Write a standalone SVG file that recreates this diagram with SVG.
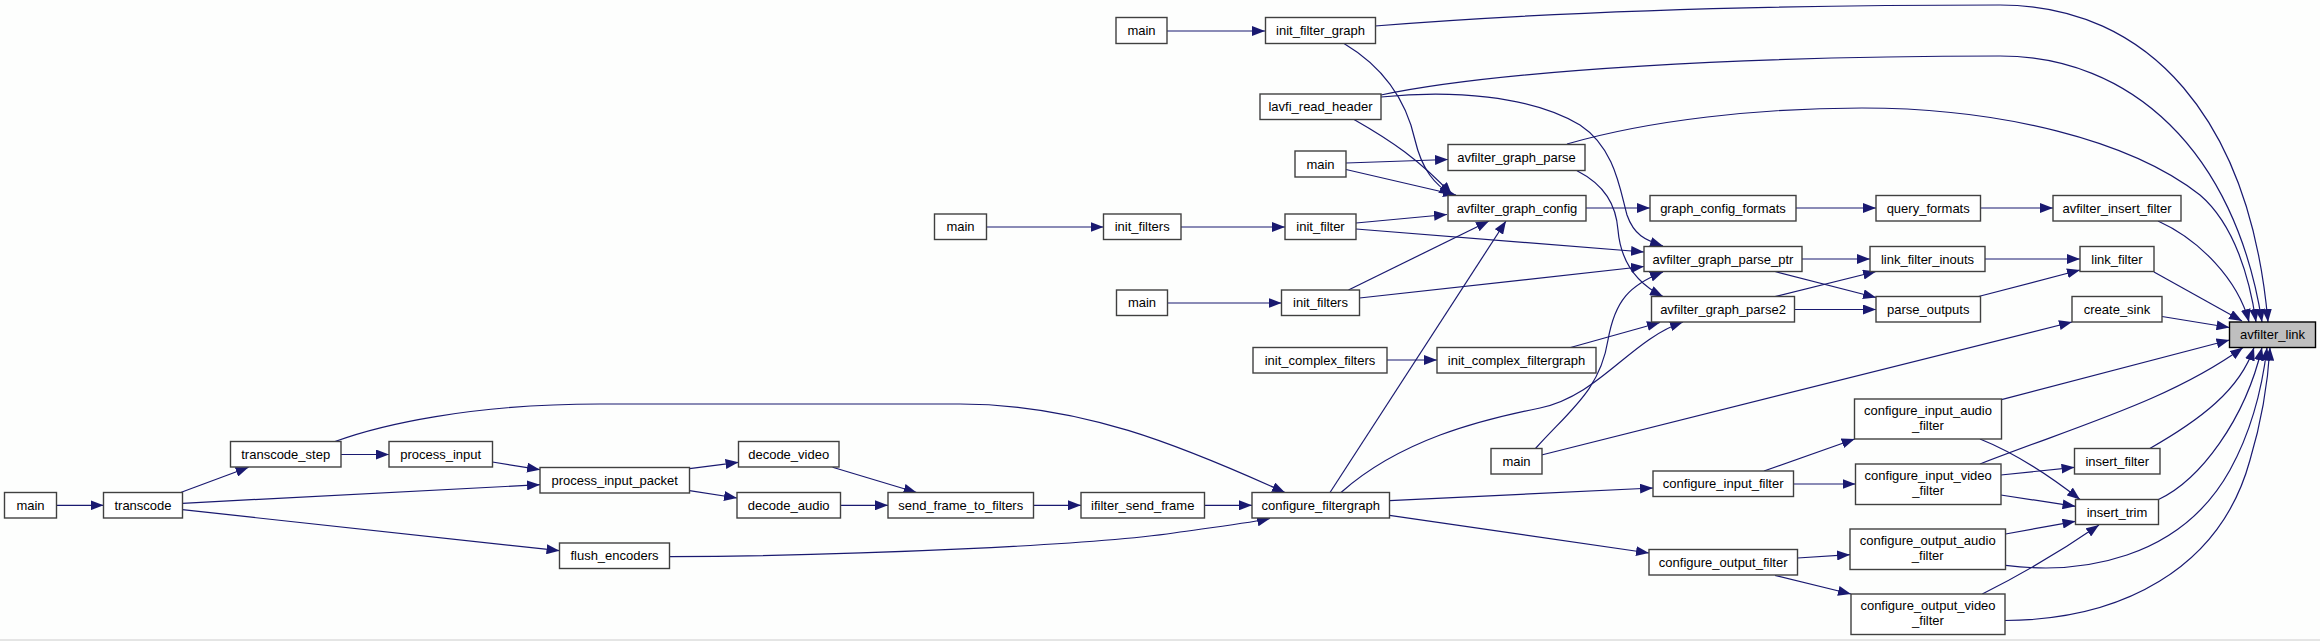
<svg xmlns="http://www.w3.org/2000/svg" width="2320" height="641" viewBox="0 0 2320 641">
<defs>
<style>
.n rect{fill:#ffffff;stroke:#404040;stroke-width:1.4}
.n.hl rect{fill:#bfbfbf;stroke:#000000}
.n text{font-family:"Liberation Sans",Arial,sans-serif;font-size:13px;fill:#000000;text-anchor:middle}
#edges path{fill:none;stroke:#191970;stroke-width:1.2;marker-end:url(#ah)}
</style>
<marker id="ah" markerWidth="14" markerHeight="10" refX="13" refY="5" orient="auto" markerUnits="userSpaceOnUse"><path d="M0,0 L13,5 L0,10 z" fill="#191970"/></marker>
</defs>
<rect x="0" y="0" width="2320" height="641" fill="#fdfefd"/>
<line x1="0" y1="640" x2="2320" y2="640" stroke="#cccccc" stroke-width="1"/>
<g id="edges">
<path d="M1167,31 L1265,31"/>
<path d="M1375,26 C1600,8 1850,5 2000,5 C2150,5 2250,120 2268,322"/>
<path d="M1344,43.5 C1380,65 1405,95 1415,140 C1422,170 1435,185 1452,195"/>
<path d="M1381,95 C1500,70 1750,56 2000,56 C2130,56 2235,150 2262,322"/>
<path d="M1381,97 C1450,90 1530,95 1580,125 C1615,148 1620,190 1627,215 C1634,235 1645,240 1663,246"/>
<path d="M1354,119.5 C1390,140 1420,160 1452,195"/>
<path d="M1346,163 L1448,159.5"/>
<path d="M1346,169.5 L1456,195"/>
<path d="M1567,144 C1650,120 1760,108 1862,108 C2000,108 2130,140 2200,195 C2235,225 2250,280 2256,322"/>
<path d="M1577,170.7 C1605,185 1616,205 1618,230 C1621,265 1640,285 1663,296.5"/>
<path d="M1586,208 L1650,208"/>
<path d="M1796,208 L1876,208"/>
<path d="M1980.5,208 L2053,208"/>
<path d="M2158,221 C2200,240 2238,280 2249,322"/>
<path d="M986.5,227 L1103.5,227"/>
<path d="M1181,227 L1285,227"/>
<path d="M1356,223 L1447,214.5"/>
<path d="M1356,229 L1644,252"/>
<path d="M1167,303 L1281.5,303"/>
<path d="M1348.5,290 L1489,221"/>
<path d="M1359.5,298 L1644,266.5"/>
<path d="M1387,360 L1437,360"/>
<path d="M1570.5,347.5 L1660,322.5"/>
<path d="M1802,259 L1870,259"/>
<path d="M1775,271.5 L1876,297.5"/>
<path d="M1775,296.5 L1876,271.5"/>
<path d="M1794.5,309.5 L1876,309.5"/>
<path d="M1985,259 L2080,259"/>
<path d="M1978.5,296.5 L2080,270"/>
<path d="M2154,272 L2242,321"/>
<path d="M2162,316.5 L2229.5,327.5"/>
<path d="M1541.5,455 L2072,322"/>
<path d="M1535.5,448.5 C1570,410 1600,390 1608,340 C1615,300 1630,285 1663,272"/>
<path d="M1341,492.5 C1400,440 1480,420 1540,408 C1600,395 1630,340 1683,322"/>
<path d="M1330,492.5 L1506,221"/>
<path d="M335,441.5 C380,425 470,404 600,404 L960,404 C1080,404 1180,445 1285,492.5"/>
<path d="M1389.5,500.7 L1653,488"/>
<path d="M1389.5,515.3 L1649,553"/>
<path d="M1204.5,505.3 L1252,505.3"/>
<path d="M669.5,556.7 C850,556 1100,545 1180,532 C1230,525 1255,522 1270,518.5"/>
<path d="M56.5,505.3 L103.5,505.3"/>
<path d="M181.3,492.3 L248.6,467.3"/>
<path d="M182.4,503.3 L540,484.7"/>
<path d="M182.4,509.7 L559.5,550.7"/>
<path d="M341,454.5 L389,454.5"/>
<path d="M492.4,462 L540,469.7"/>
<path d="M689.5,468.7 L738.5,462.3"/>
<path d="M689.5,490.7 L737,498"/>
<path d="M832.6,467.3 L916.6,492.5"/>
<path d="M840.5,505.3 L888,505.3"/>
<path d="M1033.5,505.3 L1081,505.3"/>
<path d="M1764,471 L1854.7,439"/>
<path d="M1793.5,484 L1855.5,484"/>
<path d="M2001.5,399.7 L2229.5,340"/>
<path d="M1980,439 C2020,455 2055,480 2080,499.5"/>
<path d="M1980,464 C2080,425 2170,400 2243,347.5"/>
<path d="M2000.8,475 L2074.5,467.3"/>
<path d="M2000.8,495 L2075.5,506.3"/>
<path d="M2149,449 C2200,420 2240,390 2254,347.5"/>
<path d="M2158.5,499.5 C2200,480 2245,420 2262,347.5"/>
<path d="M1797.5,558 L1850,554.7"/>
<path d="M1775,575.5 L1851,594"/>
<path d="M2005.6,534 L2075.5,521.3"/>
<path d="M2005.6,565.3 C2080,575 2180,560 2230,470 C2252,430 2262,390 2267,347.5"/>
<path d="M1982.3,594 C2030,570 2070,545 2099,525"/>
<path d="M2005,620.5 C2120,620 2220,570 2250,460 C2262,420 2268,380 2270,347.5"/>
</g>
<g id="n_main_a" class="n"><rect x="1116" y="17.5" width="51" height="26"/><text x="1141.5" y="35">main</text></g>
<g id="n_init_filter_graph" class="n"><rect x="1265.5" y="17.5" width="110" height="26"/><text x="1320.5" y="35">init_filter_graph</text></g>
<g id="n_lavfi_read_header" class="n"><rect x="1260" y="94" width="121" height="25.5"/><text x="1320.5" y="111.3">lavfi_read_header</text></g>
<g id="n_main_b" class="n"><rect x="1295" y="151" width="51" height="26"/><text x="1320.5" y="168.5">main</text></g>
<g id="n_avfilter_graph_parse" class="n"><rect x="1448" y="144.5" width="137" height="26"/><text x="1516.5" y="162">avfilter_graph_parse</text></g>
<g id="n_avfilter_graph_config" class="n"><rect x="1448" y="195.5" width="138" height="25.5"/><text x="1517" y="212.8">avfilter_graph_config</text></g>
<g id="n_graph_config_formats" class="n"><rect x="1650" y="195.5" width="146" height="25.5"/><text x="1723" y="212.8">graph_config_formats</text></g>
<g id="n_query_formats" class="n"><rect x="1876" y="195.5" width="104.5" height="25.5"/><text x="1928.2" y="212.8">query_formats</text></g>
<g id="n_avfilter_insert_filter" class="n"><rect x="2053" y="195.5" width="128" height="25.5"/><text x="2117" y="212.8">avfilter_insert_filter</text></g>
<g id="n_main_c" class="n"><rect x="934.5" y="214" width="52" height="25.5"/><text x="960.5" y="231.3">main</text></g>
<g id="n_init_filters_a" class="n"><rect x="1103.5" y="214" width="77.5" height="25.5"/><text x="1142.2" y="231.3">init_filters</text></g>
<g id="n_init_filter" class="n"><rect x="1285" y="214" width="71" height="25.5"/><text x="1320.5" y="231.3">init_filter</text></g>
<g id="n_main_d" class="n"><rect x="1116.5" y="290" width="51" height="25.5"/><text x="1142" y="307.3">main</text></g>
<g id="n_init_filters_b" class="n"><rect x="1281.5" y="290" width="78" height="25.5"/><text x="1320.5" y="307.3">init_filters</text></g>
<g id="n_avfilter_graph_parse_ptr" class="n"><rect x="1644" y="246.5" width="158" height="25"/><text x="1723" y="263.5">avfilter_graph_parse_ptr</text></g>
<g id="n_avfilter_graph_parse2" class="n"><rect x="1651.5" y="296.5" width="143" height="25.5"/><text x="1723" y="313.8">avfilter_graph_parse2</text></g>
<g id="n_link_filter_inouts" class="n"><rect x="1870" y="246.5" width="115" height="25"/><text x="1927.5" y="263.5">link_filter_inouts</text></g>
<g id="n_link_filter" class="n"><rect x="2080" y="246.5" width="74" height="25"/><text x="2117" y="263.5">link_filter</text></g>
<g id="n_parse_outputs" class="n"><rect x="1876" y="296.5" width="104.5" height="25.5"/><text x="1928.2" y="313.8">parse_outputs</text></g>
<g id="n_create_sink" class="n"><rect x="2072" y="296.5" width="90" height="25.5"/><text x="2117" y="313.8">create_sink</text></g>
<g id="n_avfilter_link" class="n hl"><rect x="2229.5" y="322" width="86" height="25.5"/><text x="2272.5" y="339.3">avfilter_link</text></g>
<g id="n_init_complex_filters" class="n"><rect x="1253" y="347.5" width="134" height="25.5"/><text x="1320" y="364.8">init_complex_filters</text></g>
<g id="n_init_complex_filtergraph" class="n"><rect x="1437" y="347.5" width="159" height="25.5"/><text x="1516.5" y="364.8">init_complex_filtergraph</text></g>
<g id="n_configure_input_audio_filter" class="n"><rect x="1854.5" y="399" width="147" height="40"/><text x="1928" y="415">configure_input_audio</text><text x="1928" y="430">_filter</text></g>
<g id="n_main_e" class="n"><rect x="4.5" y="492.5" width="52" height="25.5"/><text x="30.5" y="509.8">main</text></g>
<g id="n_transcode" class="n"><rect x="103.5" y="492.5" width="79" height="25.5"/><text x="143" y="509.8">transcode</text></g>
<g id="n_transcode_step" class="n"><rect x="230.5" y="441.5" width="110.5" height="25.5"/><text x="285.7" y="458.8">transcode_step</text></g>
<g id="n_process_input" class="n"><rect x="389" y="441.5" width="103.5" height="25.5"/><text x="440.7" y="458.8">process_input</text></g>
<g id="n_process_input_packet" class="n"><rect x="540" y="467.5" width="149.5" height="25.5"/><text x="614.7" y="484.8">process_input_packet</text></g>
<g id="n_flush_encoders" class="n"><rect x="559.5" y="543" width="110" height="25.5"/><text x="614.5" y="560.3">flush_encoders</text></g>
<g id="n_decode_video" class="n"><rect x="738.5" y="441.5" width="100.5" height="25.5"/><text x="788.7" y="458.8">decode_video</text></g>
<g id="n_decode_audio" class="n"><rect x="737" y="492.5" width="103.5" height="25.5"/><text x="788.7" y="509.8">decode_audio</text></g>
<g id="n_send_frame_to_filters" class="n"><rect x="888" y="492.5" width="145.5" height="25.5"/><text x="960.7" y="509.8">send_frame_to_filters</text></g>
<g id="n_ifilter_send_frame" class="n"><rect x="1081" y="492.5" width="123.5" height="25.5"/><text x="1142.7" y="509.8">ifilter_send_frame</text></g>
<g id="n_configure_filtergraph" class="n"><rect x="1252" y="492.5" width="137.5" height="25.5"/><text x="1320.7" y="509.8">configure_filtergraph</text></g>
<g id="n_main_f" class="n"><rect x="1491" y="448.5" width="51" height="25.5"/><text x="1516.5" y="465.8">main</text></g>
<g id="n_configure_input_filter" class="n"><rect x="1653" y="471" width="140.5" height="25.5"/><text x="1723.2" y="488.3">configure_input_filter</text></g>
<g id="n_configure_output_filter" class="n"><rect x="1649" y="549.5" width="148.5" height="25.5"/><text x="1723.2" y="566.8">configure_output_filter</text></g>
<g id="n_configure_input_video_filter" class="n"><rect x="1855.5" y="464" width="145.5" height="40.5"/><text x="1928.2" y="480.3">configure_input_video</text><text x="1928.2" y="495.3">_filter</text></g>
<g id="n_insert_filter" class="n"><rect x="2074.5" y="448.5" width="85.5" height="25.5"/><text x="2117.2" y="465.8">insert_filter</text></g>
<g id="n_insert_trim" class="n"><rect x="2075.5" y="499.5" width="83" height="25"/><text x="2117" y="516.5">insert_trim</text></g>
<g id="n_configure_output_audio_filter" class="n"><rect x="1850" y="529" width="155.5" height="40.5"/><text x="1927.7" y="545.3">configure_output_audio</text><text x="1927.7" y="560.3">_filter</text></g>
<g id="n_configure_output_video_filter" class="n"><rect x="1851" y="594" width="154" height="40.5"/><text x="1928" y="610.3">configure_output_video</text><text x="1928" y="625.3">_filter</text></g>
</svg>
